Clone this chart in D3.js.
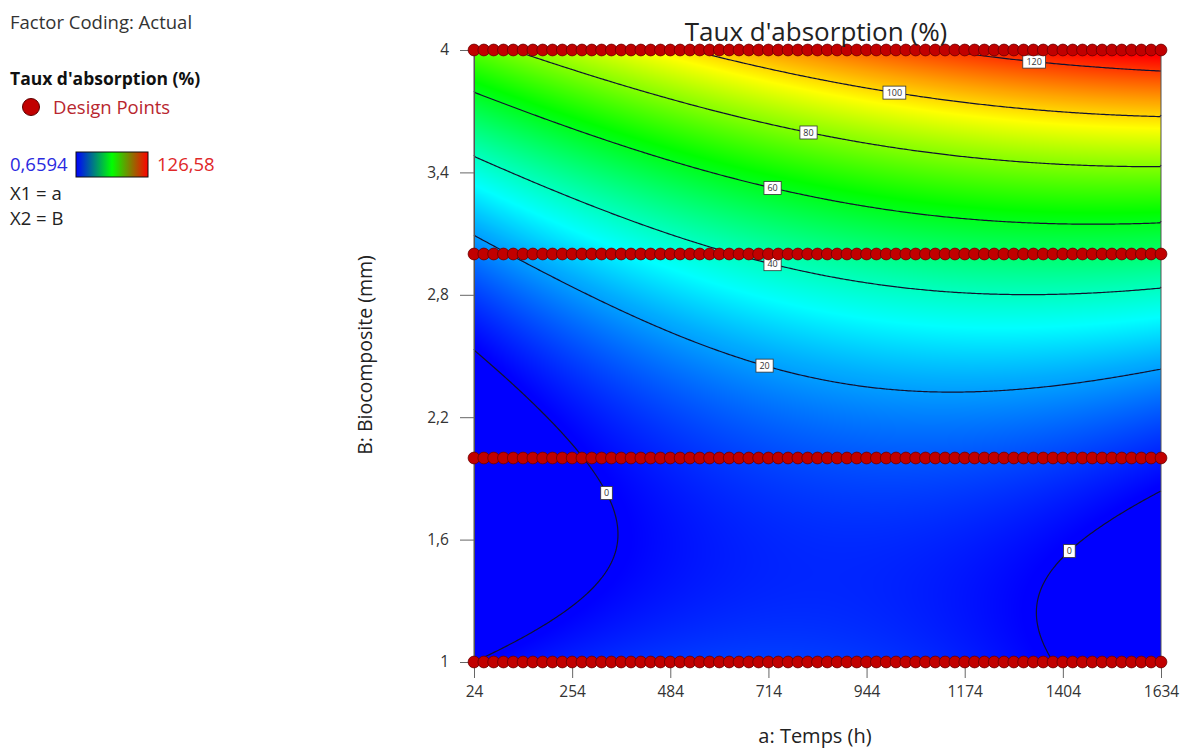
<!DOCTYPE html>
<html><head><meta charset="utf-8">
<script src="https://cdn.jsdelivr.net/npm/d3@7"></script>
<style>
body{margin:0;background:#fff;}
svg{display:block;font-family:'Open Sans','Noto Sans',sans-serif;}
</style>
</head><body>
<svg id="chart" width="1180" height="749"></svg>
<script>
// ---------------- DATA ----------------
const chartTitle = "Taux d'absorption (%)";
const xAxisTitle = "a: Temps (h)";
const yAxisTitle = "B: Biocomposite (mm)";
// design points: time levels (h) and biocomposite levels (mm)
const timeLevels = [24,47,70,93,116,139,162,185,208,231,254,277,300,323,346,369,392,415,438,461,
  484,507,530,553,576,599,622,645,668,691,714,737,760,783,806,829,852,875,898,921,944,967,990,
  1013,1036,1059,1082,1105,1128,1151,1174,1197,1220,1243,1266,1289,1312,1335,1358,1381,1404,1427,
  1450,1473,1496,1519,1542,1565,1588,1611,1634];
const biocompositeLevels = [1, 2, 3, 4];
const xTickValues = [24, 254, 484, 714, 944, 1174, 1404, 1634];
const yTickValues = [1, 1.6, 2.2, 2.8, 3.4, 4];
const contourLevels = [0, 20, 40, 60, 80, 100, 120];
const responseRange = [0.6594, 126.58];
const timeRange = [24, 1634];
const bioRange = [1, 4];
// fitted response model: sum coef * A^pA * B^pB  (A = coded time, B = actual mm)
const modelPowA = [0, 1, 2, 0, 1, 2, 0, 2];
const modelPowB = [0, 0, 0, 1, 1, 1, 2, 2];
const modelCoef = [38.33, -14.2, -9.53, -46.13, 10.4, -3.467, 16.1, 0.9];
const legendLines = ["Factor Coding: Actual", "Taux d'absorption (%)", "Design Points", "X1 = a", "X2 = B"];

// ---------------- LAYOUT ----------------
const svg = d3.select("#chart");
const L = 474, R = 1161, T = 50, B = 662;
const x = d3.scaleLinear().domain(timeRange).range([L, R]);
const y = d3.scaleLinear().domain(bioRange).range([B, T]);

function model(a, b) {
  const A = (a - (timeRange[0] + timeRange[1]) / 2) / ((timeRange[1] - timeRange[0]) / 2);
  let s = 0;
  for (let k = 0; k < modelCoef.length; k++) s += modelCoef[k] * Math.pow(A, modelPowA[k]) * Math.pow(b, modelPowB[k]);
  return s;
}

const lo = responseRange[0], hi = responseRange[1];
const color = d3.scaleLinear()
  .domain([0, 0.25, 0.5, 0.75, 1].map(t => lo + t * (hi - lo)))
  .range(["#0000ff", "#00ffff", "#00ff00", "#ffff00", "#ff0000"])
  .clamp(true);

// ---- surface fill via canvas ----
const W = R - L, H = B - T;
const cv = document.createElement("canvas");
cv.width = W; cv.height = H;
const ctx = cv.getContext("2d");
const img = ctx.createImageData(W, H);
const LUT = 1024, lut = [];
for (let k = 0; k < LUT; k++) { const c = d3.rgb(color(lo + (hi - lo) * k / (LUT - 1))); lut.push([c.r, c.g, c.b]); }
for (let py = 0; py < H; py++) {
  const bv = y.invert(T + py + 0.5);
  for (let px = 0; px < W; px++) {
    const av = x.invert(L + px + 0.5);
    const v = model(av, bv);
    let k = Math.round((v - lo) / (hi - lo) * (LUT - 1));
    k = Math.max(0, Math.min(LUT - 1, k));
    const o = (py * W + px) * 4, c = lut[k];
    img.data[o] = c[0]; img.data[o + 1] = c[1]; img.data[o + 2] = c[2]; img.data[o + 3] = 255;
  }
}
ctx.putImageData(img, 0, 0);
svg.append("image").attr("x", L).attr("y", T).attr("width", W).attr("height", H)
  .attr("preserveAspectRatio", "none").attr("href", cv.toDataURL());

// ---- contour lines ----
const n = 344, m = 306;
const grid = new Float64Array(n * m);
for (let j = 0; j < m; j++) {
  const bv = y.invert(T + (j + 0.5) * H / m);
  for (let i = 0; i < n; i++) grid[j * n + i] = model(x.invert(L + (i + 0.5) * W / n), bv);
}
const cons = d3.contours().size([n, m]).thresholds(contourLevels)(grid);
function isoLines(geom) {
  const lines = [];
  geom.coordinates.forEach(poly => poly.forEach(ring => {
    let cur = [];
    for (let k = 0; k < ring.length - 1; k++) {
      const p = ring[k], q = ring[k + 1];
      const onB = (p[0] === 0 && q[0] === 0) || (p[0] === n && q[0] === n) || (p[1] === 0 && q[1] === 0) || (p[1] === m && q[1] === m);
      if (onB) { if (cur.length > 1) lines.push(cur); cur = []; }
      else { if (cur.length === 0) cur.push(p); cur.push(q); }
    }
    if (cur.length > 1) lines.push(cur);
  }));
  return lines.map(l => l.map(p => [L + p[0] * W / n, T + p[1] * H / m]));
}
const lineGen = d3.line();
const gC = svg.append("g");
const levelLines = {};
cons.forEach(c => {
  const ls = isoLines(c);
  levelLines[c.value] = ls;
  ls.forEach(l => gC.append("path").attr("d", lineGen(l)).attr("fill", "none")
    .attr("stroke", "#121230").attr("stroke-width", 1.2));
});

// ---- contour labels ----
const labelSpots = [[120, 1337, 3.95], [100, 1011, 3.79], [80, 807, 3.6], [60, 725, 3.33], [40, 725, 2.96],
  [20, 706, 2.47], [0, 326, 1.82], [0, 1412, 1.56]];
const gL = svg.append("g");
labelSpots.forEach(([lv, av, bv]) => {
  const tx = x(av), ty = y(bv);
  let best = null, bd = Infinity;
  (levelLines[lv] || []).forEach(l => l.forEach(p => {
    const d = (p[0] - tx) ** 2 + (p[1] - ty) ** 2;
    if (d < bd) { bd = d; best = p; }
  }));
  if (!best) return;
  const txt = String(lv);
  const w = txt.length * 5.6 + 6, h = 13;
  gL.append("rect").attr("x", best[0] - w / 2).attr("y", best[1] - h / 2).attr("width", w).attr("height", h)
    .attr("fill", "#fff").attr("stroke", "#333").attr("stroke-width", 0.8);
  gL.append("text").attr("x", best[0]).attr("y", best[1]).attr("dy", "0.35em").attr("text-anchor", "middle")
    .attr("font-size", 9).attr("fill", "#333").text(txt);
});

// ---- frame & axes ----
svg.append("rect").attr("x", L).attr("y", T).attr("width", W).attr("height", H)
  .attr("fill", "none").attr("stroke", "#555").attr("stroke-width", 1);

const fmt = d => String(d).replace(".", ",");
const xAxis = svg.append("g").attr("transform", `translate(0,${B})`)
  .call(d3.axisBottom(x).tickValues(xTickValues).tickSize(16).tickPadding(8).tickFormat(fmt));
const yAxis = svg.append("g").attr("transform", `translate(${L},0)`)
  .call(d3.axisLeft(y).tickValues(yTickValues).tickSize(14).tickPadding(11).tickFormat(fmt));
[xAxis, yAxis].forEach(g => {
  g.select(".domain").attr("stroke", "#555");
  g.selectAll(".tick line").attr("stroke", "#666");
  g.selectAll("text").attr("font-size", 15.5).attr("fill", "#333").attr("font-family", "'Open Sans',sans-serif");
});

// ---- design points ----
const pts = [];
biocompositeLevels.forEach(bv => timeLevels.forEach(tv => pts.push([tv, bv])));
svg.append("g").selectAll("circle").data(pts).join("circle")
  .attr("cx", d => x(d[0])).attr("cy", d => y(d[1])).attr("r", 5.9)
  .attr("fill", "#c10000").attr("stroke", "#6a0000").attr("stroke-width", 0.8);

// ---- titles ----
svg.append("text").attr("x", 816).attr("y", 41).attr("text-anchor", "middle")
  .attr("font-size", 26).attr("fill", "#222").text(chartTitle);
svg.append("text").attr("x", 815).attr("y", 743).attr("text-anchor", "middle")
  .attr("font-size", 20).attr("fill", "#222").text(xAxisTitle);
svg.append("text").attr("transform", "translate(372,355) rotate(-90)").attr("text-anchor", "middle")
  .attr("font-size", 19.5).attr("fill", "#222").text(yAxisTitle);

// ---- legend ----
const lg = svg.append("g").attr("font-size", 18.5);
lg.append("text").attr("x", 10).attr("y", 29).attr("fill", "#333").text(legendLines[0]);
lg.append("text").attr("x", 10).attr("y", 85).attr("fill", "#111").attr("font-weight", "bold").attr("font-size", 17.5).text(legendLines[1]);
lg.append("circle").attr("cx", 31).attr("cy", 107).attr("r", 8.5).attr("fill", "#c10000").attr("stroke", "#5a0000").attr("stroke-width", 1);
lg.append("text").attr("x", 53).attr("y", 114).attr("fill", "#b8262e").text(legendLines[2]);
const defs = svg.append("defs");
const grad = defs.append("linearGradient").attr("id", "lgGrad");
[["0%", "#0000ff"], ["50%", "#00ff00"], ["100%", "#ff0000"]].forEach(s => grad.append("stop").attr("offset", s[0]).attr("stop-color", s[1]));
lg.append("text").attr("x", 10).attr("y", 171).attr("fill", "#2a2ae0").text(fmt(lo));
lg.append("rect").attr("x", 76).attr("y", 152).attr("width", 72).attr("height", 25).attr("fill", "url(#lgGrad)").attr("stroke", "#111").attr("stroke-width", 1);
lg.append("text").attr("x", 157).attr("y", 171).attr("fill", "#e02828").text(fmt(hi));
lg.append("text").attr("x", 10).attr("y", 200).attr("fill", "#222").text(legendLines[3]);
lg.append("text").attr("x", 10).attr("y", 225).attr("fill", "#222").text(legendLines[4]);
</script>
</body></html>
